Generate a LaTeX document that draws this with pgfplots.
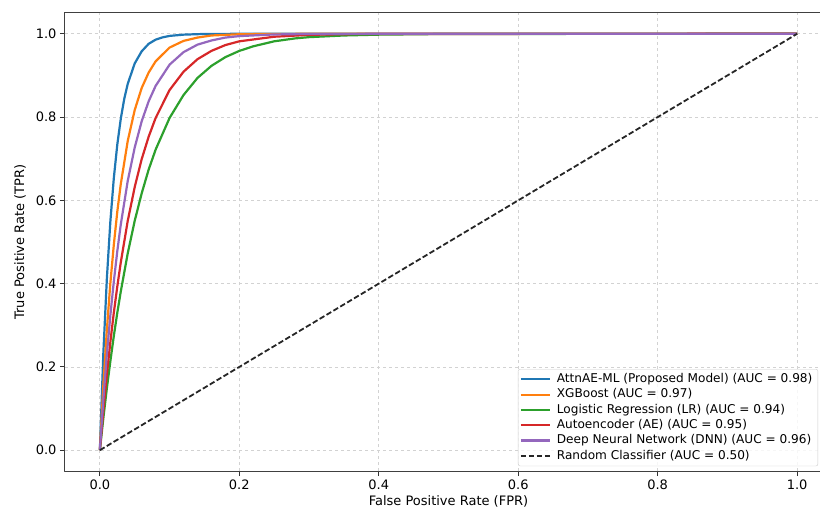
\documentclass[border=0pt]{standalone}
\usepackage{pgfplots}
\pgfplotsset{compat=1.18}
\usepackage{fontspec}
\setmainfont{DejaVu Sans}
\definecolor{tabblue}{HTML}{1F77B4}
\definecolor{taborange}{HTML}{FF7F0E}
\definecolor{tabgreen}{HTML}{2CA02C}
\definecolor{tabred}{HTML}{D62728}
\definecolor{tabpurple}{HTML}{9467BD}
\begin{document}
\begin{tikzpicture}
\path[use as bounding box] (-65pt,-36pt) rectangle (755pt,471pt);
\begin{axis}[
  at={(0,0)}, anchor=south west,
  scale only axis, width=767pt, height=458pt,
  xmin=-0.05, xmax=1.05, ymin=-0.05, ymax=1.05,
  xtick={0,0.2,0.4,0.6,0.8,1.0},
  ytick={0,0.2,0.4,0.6,0.8,1.0},
  xtick pos=bottom, ytick pos=left,
  tick align=outside,
  major tick length=5pt,
  every tick/.style={black!80, line width=0.9pt},
  axis line style={black!75, line width=1pt},
  /pgf/number format/assume math mode=true,
  xticklabel style={font=\fontsize{13}{15}\selectfont, /pgf/number format/.cd, fixed, fixed zerofill, precision=1},
  yticklabel style={font=\fontsize{13}{15}\selectfont, /pgf/number format/.cd, fixed, fixed zerofill, precision=1},
  grid=major,
  major grid style={dashed, gray!35, line width=0.8pt},
  xlabel={False Positive Rate (FPR)},
  ylabel={True Positive Rate (TPR)},
  label style={font=\fontsize{13}{15}\selectfont},
  xlabel style={at={(axis description cs:0.5,0)}, anchor=center, yshift=-30pt},
  ylabel style={at={(axis description cs:-0.0587,0.5)}, anchor=center},
  legend style={at={(axis description cs:0.5906,0.2227)}, anchor=north west,
    font=\fontsize{12.1}{12}\selectfont, draw=black!20, fill=white, fill opacity=0.8, text opacity=1,
    rounded corners=2pt, row sep=0pt, column sep=2pt, inner xsep=1.5pt, inner ysep=2.5pt,
    nodes={text height=9pt, text depth=2.5pt, inner ysep=1.9pt, inner xsep=4pt}},
  legend cell align=left,
  legend image code/.code={\draw[#1] (0pt,0pt) -- (29pt,0pt);},
  line join=round,
]
\addplot[tabblue, line width=2.2pt] coordinates {
(0,0) (0.005,0.233) (0.01,0.411) (0.015,0.548) (0.02,0.653) (0.025,0.734) (0.03,0.796) (0.035,0.844) (0.04,0.880) (0.05,0.929) (0.06,0.958) (0.07,0.976) (0.08,0.986) (0.09,0.9915) (0.10,0.995) (0.12,0.998) (0.15,0.9997) (0.2,1.0) (1.0,1.0)};
\addlegendentry{AttnAE-ML (Proposed Model) (AUC = 0.98)}
\addplot[taborange, line width=2.2pt] coordinates {
(0,0) (0.005,0.156) (0.01,0.288) (0.015,0.400) (0.02,0.493) (0.025,0.573) (0.03,0.639) (0.04,0.743) (0.05,0.817) (0.06,0.870) (0.07,0.907) (0.08,0.934) (0.10,0.967) (0.12,0.983) (0.14,0.991) (0.16,0.996) (0.2,0.999) (0.25,0.9998) (0.3,1.0) (1.0,1.0)};
\addlegendentry{XGBoost (AUC = 0.97)}
\addplot[tabgreen, line width=2.2pt] coordinates {
(0,0) (0.005,0.077) (0.01,0.148) (0.015,0.213) (0.02,0.274) (0.025,0.330) (0.03,0.381) (0.04,0.473) (0.05,0.551) (0.06,0.617) (0.07,0.674) (0.08,0.722) (0.10,0.798) (0.12,0.853) (0.14,0.894) (0.16,0.923) (0.18,0.944) (0.2,0.959) (0.22,0.970) (0.25,0.982) (0.28,0.989) (0.3,0.992) (0.35,0.996) (0.4,0.998) (0.5,0.9997) (1.0,1.0)};
\addlegendentry{Logistic Regression (LR) (AUC = 0.94)}
\addplot[tabred, line width=2.2pt] coordinates {
(0,0) (0.005,0.095) (0.01,0.181) (0.015,0.259) (0.02,0.330) (0.025,0.393) (0.03,0.451) (0.04,0.551) (0.05,0.632) (0.06,0.699) (0.07,0.753) (0.08,0.798) (0.10,0.865) (0.12,0.909) (0.14,0.939) (0.16,0.959) (0.18,0.973) (0.2,0.982) (0.25,0.993) (0.3,0.9975) (0.35,0.9991) (0.4,0.9997) (1.0,1.0)};
\addlegendentry{Autoencoder (AE) (AUC = 0.95)}
\addplot[tabpurple, line width=2.2pt] coordinates {
(0,0) (0.005,0.122) (0.01,0.229) (0.015,0.323) (0.02,0.405) (0.025,0.478) (0.03,0.542) (0.04,0.647) (0.05,0.727) (0.06,0.790) (0.07,0.838) (0.08,0.875) (0.10,0.926) (0.12,0.956) (0.14,0.974) (0.16,0.984) (0.18,0.991) (0.2,0.9945) (0.25,0.9985) (0.3,0.9996) (0.4,1.0) (1.0,1.0)};
\addlegendentry{Deep Neural Network (DNN) (AUC = 0.96)}
\addplot[black!85, line width=1.8pt, dash pattern=on 5.5pt off 2.5pt] coordinates {(0,0) (1,1)};
\addlegendentry{Random Classifier (AUC = 0.50)}
\end{axis}
\end{tikzpicture}
\end{document}
